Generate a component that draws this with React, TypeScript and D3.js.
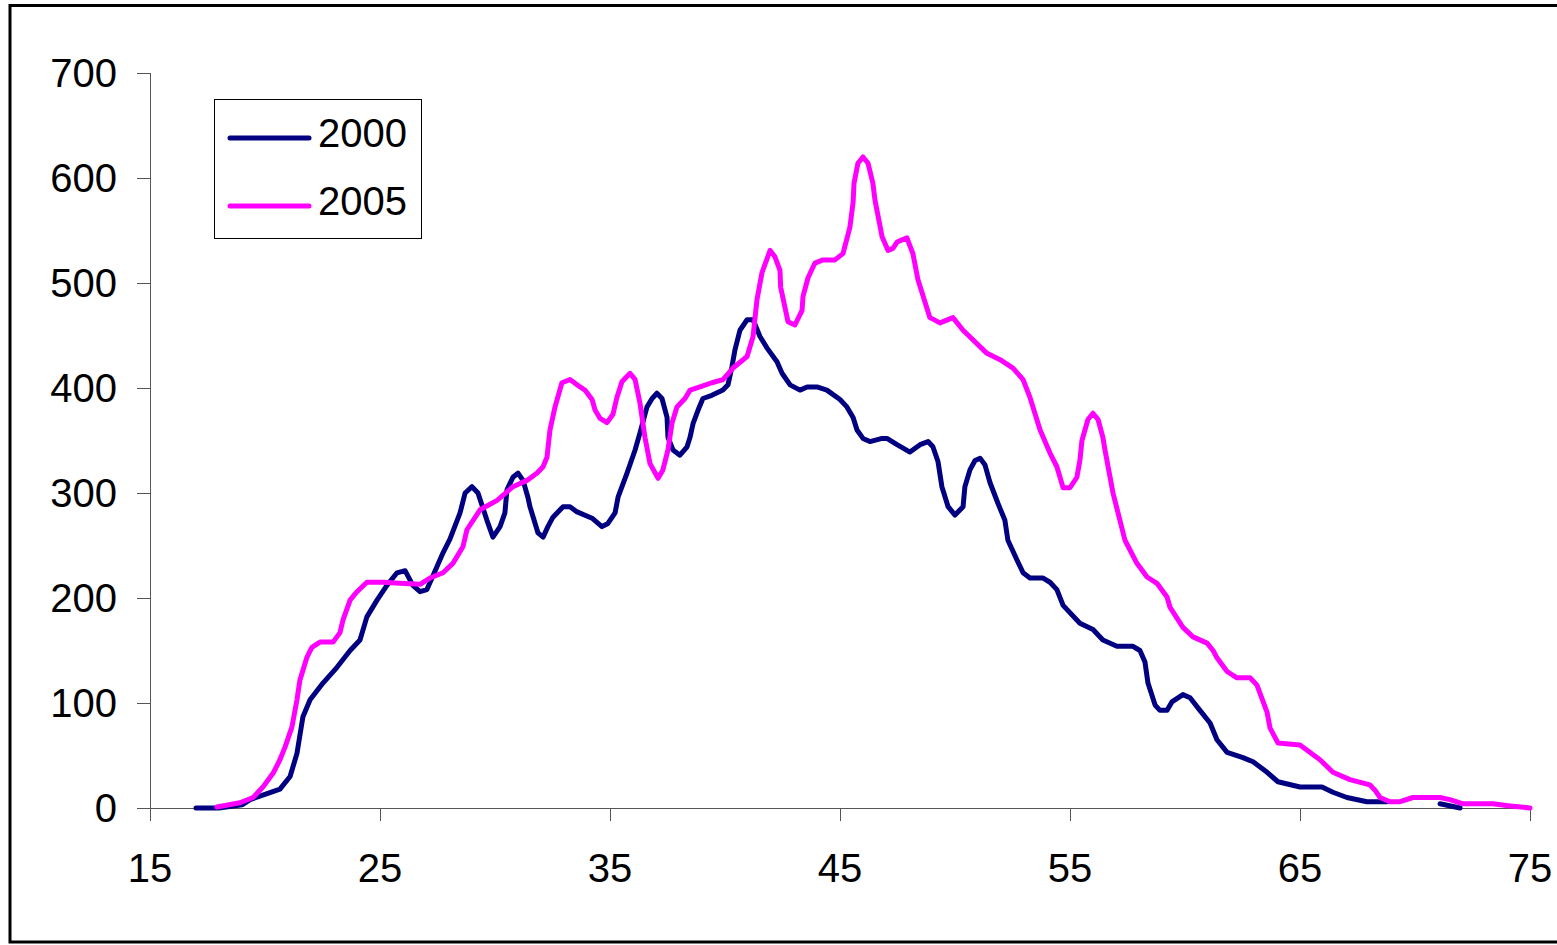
import React from 'react';
import * as d3 from 'd3';

// age -> count (null = gap in the 2000 line)
const ages2000 = [
  17.0, 18.0, 19.0, 19.35, 20.0, 20.65, 21.09, 21.39, 21.65, 21.96, 22.52, 23.13, 23.7, 24.13, 24.43, 24.87,
  25.3, 25.74, 26.09, 26.43, 26.74, 27.04, 27.48, 27.74, 28.04, 28.48, 28.7, 29.0, 29.26, 29.65, 29.91, 30.22,
  30.43, 30.52, 30.78, 31.0, 31.22, 31.43, 31.52, 31.87, 32.09, 32.3, 32.52, 32.96, 33.26, 33.57, 34.22, 34.65,
  34.91, 35.22, 35.35, 35.74, 36.09, 36.3, 36.61, 36.83, 37.04, 37.26, 37.48, 37.52, 37.74, 38.04, 38.35, 38.48,
  38.61, 38.83, 39.04, 39.43, 39.91, 40.13, 40.3, 40.43, 40.65, 40.96, 41.22, 41.52, 41.83, 42.26, 42.48, 42.83,
  43.26, 43.57, 44.0, 44.43, 45.0, 45.3, 45.57, 45.74, 46.0, 46.3, 46.83, 47.04, 47.48, 48.04, 48.48, 48.83,
  49.04, 49.26, 49.43, 49.7, 50.0, 50.35, 50.43, 50.65, 50.87, 51.09, 51.3, 51.52, 51.87, 52.17, 52.3, 52.7,
  52.96, 53.26, 53.83, 54.13, 54.43, 54.7, 55.43, 56.0, 56.43, 57.04, 57.74, 58.04, 58.26, 58.39, 58.7, 58.91,
  59.22, 59.43, 59.91, 60.22, 60.65, 61.09, 61.39, 61.83, 62.52, 62.96, 63.57, 64.04, 65.0, 65.96, 66.43, 67.04,
  67.91, 68.78, 70.0, 71.09, 71.96,
];
const values2000 = [
  0, 0, 3, 8, 13, 18, 30, 52, 87, 103, 119, 134, 150, 160, 182, 198,
  212, 224, 226, 212, 206, 208, 230, 243, 256, 281, 300, 306, 300, 274, 258, 268,
  281, 303, 315, 319, 312, 296, 287, 262, 258, 268, 277, 287, 287, 282, 276, 268,
  271, 281, 296, 319, 341, 357, 382, 390, 395, 390, 372, 353, 341, 336, 344, 353,
  366, 379, 390, 393, 398, 403, 420, 436, 455, 465, 465, 449, 438, 425, 414, 403,
  398, 401, 401, 398, 389, 382, 372, 360, 352, 349, 352, 352, 346, 339, 346, 349,
  344, 330, 306, 287, 279, 287, 306, 322, 331, 333, 327, 310, 290, 274, 255, 236,
  224, 219, 219, 215, 208, 193, 176, 170, 160, 154, 154, 150, 139, 119, 98, 93,
  93, 101, 108, 105, 93, 81, 65, 53, 48, 44, 34, 25, 20, 20, 15, 10,
  6, 6, null, 4, 0,
];

const ages2005 = [
  17.91, 18.91, 19.48, 19.91, 20.35, 20.65, 20.87, 21.17, 21.39, 21.52, 21.83, 22.04, 22.39, 22.96, 23.26, 23.39,
  23.7, 24.0, 24.43, 25.13, 25.87, 26.74, 27.17, 27.74, 28.17, 28.61, 28.78, 29.35, 30.09, 30.78, 31.39, 31.83,
  32.09, 32.26, 32.39, 32.61, 32.91, 33.26, 33.7, 33.91, 34.22, 34.35, 34.57, 34.87, 35.13, 35.3, 35.52, 35.87,
  36.09, 36.3, 36.52, 36.74, 37.09, 37.3, 37.52, 37.7, 37.91, 38.26, 38.48, 38.91, 39.43, 39.91, 40.35, 40.96,
  41.22, 41.39, 41.61, 41.96, 42.17, 42.39, 42.42, 42.74, 43.04, 43.35, 43.39, 43.61, 43.91, 44.26, 44.78, 45.13,
  45.43, 45.57, 45.61, 45.78, 46.0, 46.22, 46.43, 46.52, 46.83, 47.09, 47.3, 47.48, 47.91, 48.17, 48.39, 48.91,
  49.35, 49.91, 50.35, 51.39, 51.96, 52.52, 52.96, 53.26, 53.7, 54.13, 54.43, 54.7, 55.0, 55.3, 55.43, 55.52,
  55.78, 56.0, 56.22, 56.43, 56.52, 56.87, 57.39, 57.91, 58.35, 58.78, 59.22, 59.35, 59.91, 60.35, 60.96, 61.22,
  61.39, 61.83, 62.26, 62.83, 63.13, 63.57, 63.7, 64.04, 65.0, 65.87, 66.43, 67.17, 68.04, 68.26, 68.48, 68.91,
  69.35, 69.91, 71.09, 71.52, 72.09, 73.39, 74.13, 75.0,
];
const values2005 = [
  1, 5, 10, 20, 33, 46, 58, 77, 103, 122, 144, 153, 158, 158, 167, 179,
  198, 206, 215, 215, 214, 213, 219, 224, 233, 249, 265, 284, 293, 306, 312, 319,
  325, 334, 360, 382, 405, 408, 401, 398, 389, 379, 371, 367, 375, 391, 406, 414,
  408, 386, 353, 328, 314, 322, 341, 367, 382, 390, 398, 401, 405, 408, 419, 430,
  449, 484, 510, 531, 525, 512, 496, 463, 460, 474, 487, 505, 519, 522, 522, 528,
  553, 577, 595, 614, 620, 614, 595, 579, 544, 531, 533, 539, 543, 528, 503, 467,
  462, 467, 455, 433, 427, 419, 408, 391, 360, 338, 325, 305, 305, 315, 331, 350,
  370, 376, 370, 353, 341, 300, 255, 233, 220, 214, 201, 191, 172, 163, 157, 150,
  143, 130, 124, 124, 117, 91, 76, 62, 60, 46, 34, 27, 22, 17, 10, 6,
  6, 10, 10, 8, 4, 4, 2, 0,
];

const seriesNames = ['2000', '2005'];
const seriesColors = ['#000080', '#FF00FF'];
const xTicks = [15, 25, 35, 45, 55, 65, 75];
const yTicks = [0, 100, 200, 300, 400, 500, 600, 700];

const W = 1557;
const H = 945;
const FONT = '"Liberation Sans", Arial, sans-serif';

export default function App() {
  const x = d3.scaleLinear().domain([15, 75]).range([150, 1530]);
  const y = d3.scaleLinear().domain([0, 700]).range([808, 73]);

  const line = d3
    .line<[number, number | null]>()
    .defined((d) => d[1] !== null)
    .x((d) => x(d[0]))
    .y((d) => y(d[1] as number));

  const s2000 = ages2000.map((a, i) => [a, values2000[i]] as [number, number | null]);
  const s2005 = ages2005.map((a, i) => [a, values2005[i]] as [number, number | null]);
  const series = [s2000, s2005];

  return (
    <svg width={W} height={H} style={{ position: 'absolute', left: 0, top: 0, background: '#fff' }}>
      {/* outer frame */}
      <rect x={10} y={5.5} width={W + 10} height={936.5} fill="none" stroke="#000" strokeWidth={3} />

      {/* y axis */}
      <line x1={150.5} x2={150.5} y1={y(700)} y2={y(0)} stroke="#555" strokeWidth={1} />
      {yTicks.map((t) => (
        <g key={t}>
          <line x1={137} x2={150.5} y1={Math.round(y(t)) + 0.5} y2={Math.round(y(t)) + 0.5} stroke="#555" />
          <text x={117} y={y(t)} dy="0.36em" textAnchor="end" fontFamily={FONT} fontSize={40} fill="#000">
            {t}
          </text>
        </g>
      ))}

      {/* x axis */}
      <line x1={x(15)} x2={x(75)} y1={808.5} y2={808.5} stroke="#555" strokeWidth={1} />
      {xTicks.map((t) => (
        <g key={t}>
          <line x1={Math.round(x(t)) + 0.5} x2={Math.round(x(t)) + 0.5} y1={808.5} y2={821} stroke="#555" />
          <text x={x(t)} y={882} textAnchor="middle" fontFamily={FONT} fontSize={40} fill="#000">
            {t}
          </text>
        </g>
      ))}

      {/* lines */}
      {series.map((s, i) => (
        <path
          key={seriesNames[i]}
          d={line(s) || ''}
          fill="none"
          stroke={seriesColors[i]}
          strokeWidth={5}
          strokeLinejoin="round"
          strokeLinecap="round"
        />
      ))}

      {/* legend */}
      <rect x={214.5} y={99.5} width={207} height={139} fill="#fff" stroke="#000" strokeWidth={1} />
      {seriesNames.map((n, i) => (
        <g key={n}>
          <line
            x1={230}
            x2={309}
            y1={138 + i * 68}
            y2={138 + i * 68}
            stroke={seriesColors[i]}
            strokeWidth={5}
            strokeLinecap="round"
          />
          <text x={318} y={147 + i * 68} fontFamily={FONT} fontSize={40} fill="#000">
            {n}
          </text>
        </g>
      ))}
    </svg>
  );
}
